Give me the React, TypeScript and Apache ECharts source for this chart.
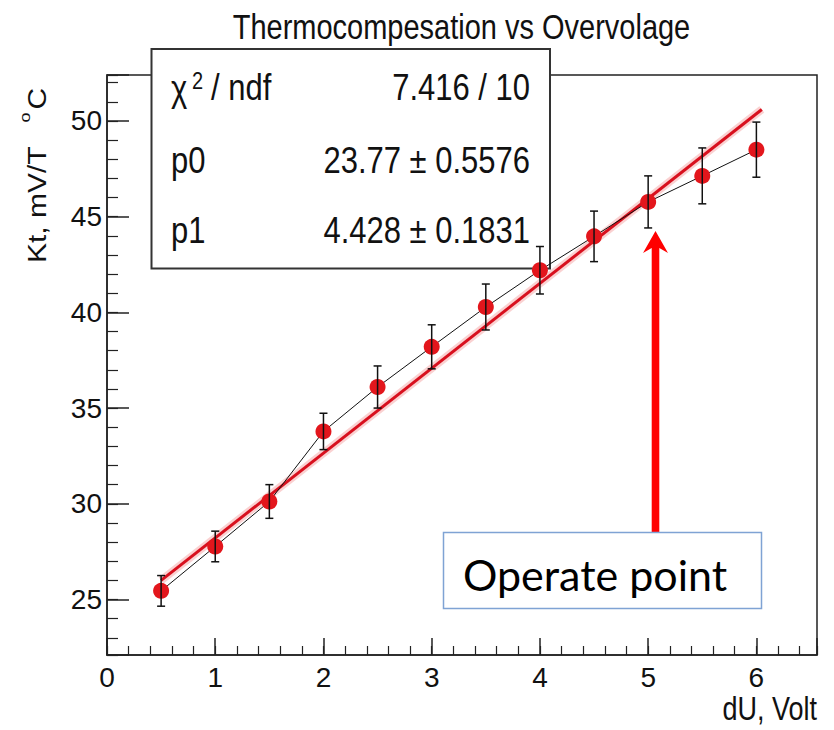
import React, { useEffect, useRef } from "react";
import * as echarts from "echarts";

// ---- data ----
const titleText = "Thermocompesation vs Overvolage";
const xAxisName = "dU, Volt";
const yAxisNameMain = "Kt, mV/T";
const yAxisNameSup = "o";
const yAxisNameUnit = "C";

const duValues = [0.5, 1, 1.5, 2, 2.5, 3, 3.5, 4, 4.5, 5, 5.5, 6];
const ktValues = [25.45, 27.77, 30.12, 33.78, 36.1, 38.2, 40.28, 42.2, 43.97, 45.77, 47.13, 48.5];
const ktErrors = [0.8, 0.8, 0.88, 0.95, 1.1, 1.15, 1.2, 1.24, 1.32, 1.36, 1.46, 1.44];

const fitDu = [0.5, 6.05];
const fitKt = [26.0, 50.6];

const statNames = ["p0", "p1"];
const statValues = ["7.416 / 10", "23.77 \u00b1 0.5576", "4.428 \u00b1 0.1831"];
const annotationText = "Operate point";

const REG = '"Liberation Sans", Arial, Helvetica, sans-serif';
const SY = 1.22; // vertical stretch of the reference picture's texts

export default function App() {
  const ref = useRef<HTMLDivElement>(null);

  useEffect(() => {
    document.body.style.margin = "0";
    const chart = echarts.init(ref.current!, null, { renderer: "svg" });

    const points = duValues.map((d, i) => [d, ktValues[i]]);
    const errData = duValues.map((d, i) => [d, ktValues[i], ktErrors[i]]);
    const fitData = fitDu.map((d, i) => [d, fitKt[i]]);

    const axisColor = "#222";

    const stretchedText = (
      x: number,
      y: number,
      text: string,
      size: number,
      align: string,
      z = 1.5
    ) => ({
      type: "text",
      x,
      y,
      z,
      scaleY: SY,
      style: { text, font: `${size}px ${REG}`, fill: "#111", align, verticalAlign: "middle" },
    });

    const option: any = {
      animation: false,
      backgroundColor: "#fff",
      grid: {
        left: 107,
        top: 75,
        right: 17,
        bottom: 75,
        show: true,
        borderColor: axisColor,
        borderWidth: 1.5,
        backgroundColor: "#fff",
        containLabel: false,
      },
      xAxis: [
        {
          type: "value",
          min: 0,
          max: 6.56,
          interval: 1,
          position: "bottom",
          axisLine: { show: true, onZero: false, lineStyle: { color: axisColor, width: 1.5 } },
          axisTick: { show: true, inside: true, length: 17, lineStyle: { color: axisColor, width: 1.5 } },
          axisLabel: {
            show: true,
            margin: 8,
            fontFamily: REG,
            fontSize: 28,
            color: "#111",
            formatter: (v: number) => (Math.abs(v - Math.round(v)) < 1e-9 ? String(Math.round(v)) : ""),
          },
          splitLine: { show: false },
        },
        {
          type: "value",
          min: 0,
          max: 6.56,
          interval: 0.2,
          position: "bottom",
          axisLine: { show: false },
          axisTick: { show: true, inside: true, length: 9, lineStyle: { color: axisColor, width: 1.2 } },
          axisLabel: { show: false },
          splitLine: { show: false },
        },
      ],
      yAxis: [
        {
          type: "value",
          min: 22.1,
          max: 52.4,
          minInterval: 5,
          maxInterval: 5,
          position: "left",
          axisLine: { show: true, onZero: false, lineStyle: { color: axisColor, width: 1.5 } },
          axisTick: { show: true, inside: true, length: 22, lineStyle: { color: axisColor, width: 1.5 } },
          axisLabel: {
            show: true,
            margin: 5,
            fontFamily: REG,
            fontSize: 28,
            color: "#111",
            formatter: (v: number) => (Math.abs(v / 5 - Math.round(v / 5)) < 1e-9 ? String(Math.round(v)) : ""),
          },
          splitLine: { show: false },
        },
        {
          type: "value",
          min: 22.1,
          max: 52.4,
          minInterval: 1,
          maxInterval: 1,
          position: "left",
          axisLine: { show: false },
          axisTick: { show: true, inside: true, length: 11, lineStyle: { color: axisColor, width: 1.2 } },
          axisLabel: { show: false },
          splitLine: { show: false },
        },
      ],
      series: [
        {
          type: "line",
          xAxisIndex: 0,
          yAxisIndex: 0,
          data: fitData,
          symbol: "none",
          lineStyle: { color: "rgba(235,70,70,0.25)", width: 8 },
          z: 2,
          silent: true,
        },
        {
          type: "line",
          xAxisIndex: 0,
          yAxisIndex: 0,
          data: fitData,
          symbol: "none",
          lineStyle: { color: "#d8101e", width: 3 },
          z: 3,
          silent: true,
        },
        {
          type: "line",
          xAxisIndex: 0,
          yAxisIndex: 0,
          data: points,
          symbol: "circle",
          symbolSize: 16,
          itemStyle: { color: "#e3161c" },
          lineStyle: { color: "#111", width: 1 },
          z: 4,
        },
        {
          type: "custom",
          xAxisIndex: 0,
          yAxisIndex: 0,
          data: errData,
          encode: { x: 0, y: 1 },
          z: 5,
          renderItem: (params: any, api: any) => {
            const x = api.value(0);
            const y = api.value(1);
            const e = api.value(2);
            const top = api.coord([x, y + e]);
            const bot = api.coord([x, y - e]);
            const hw = 4;
            const style = { stroke: "#111", lineWidth: 1.5 };
            return {
              type: "group",
              children: [
                { type: "line", shape: { x1: top[0], y1: top[1], x2: bot[0], y2: bot[1] }, style },
                { type: "line", shape: { x1: top[0] - hw, y1: top[1], x2: top[0] + hw, y2: top[1] }, style },
                { type: "line", shape: { x1: bot[0] - hw, y1: bot[1], x2: bot[0] + hw, y2: bot[1] }, style },
              ],
            };
          },
        },
      ],
      graphic: [
        stretchedText(461.5, 27, titleText, 29, "center", 1),
        {
          type: "rect",
          z: 1,
          shape: { x: 151.5, y: 49, width: 398.5, height: 219.5 },
          style: { fill: "#fff", stroke: "#333", lineWidth: 2 },
        },
        stretchedText(171, 88, "\u03c7", 31, "left"),
        stretchedText(192, 81, "2", 20, "left"),
        stretchedText(211, 87, "/ ndf", 31, "left"),
        stretchedText(171, 160, statNames[0], 31, "left"),
        stretchedText(171, 230, statNames[1], 31, "left"),
        stretchedText(530, 87, statValues[0], 31, "right"),
        stretchedText(530, 160, statValues[1], 31, "right"),
        stretchedText(530, 230, statValues[2], 31, "right"),
        {
          type: "group",
          x: 46.7,
          y: 263,
          rotation: Math.PI / 2,
          scaleX: 1.2,
          z: 1,
          children: [
            {
              type: "text",
              x: 0,
              y: -9,
              style: { text: yAxisNameMain, font: `25px ${REG}`, fill: "#111", align: "left", verticalAlign: "middle" },
            },
            {
              type: "text",
              x: 117,
              y: -22,
              style: { text: yAxisNameSup, font: `15px ${REG}`, fill: "#111", align: "left", verticalAlign: "middle" },
            },
            {
              type: "text",
              x: 128,
              y: -9,
              style: { text: yAxisNameUnit, font: `25px ${REG}`, fill: "#111", align: "left", verticalAlign: "middle" },
            },
          ],
        },
        stretchedText(817, 709, xAxisName, 27, "right", 1),
        {
          type: "polygon",
          z: 10,
          shape: {
            points: [
              [655.5, 231],
              [668, 253],
              [659.3, 248],
              [659.3, 532],
              [651.7, 532],
              [651.7, 248],
              [643, 253],
            ],
          },
          style: { fill: "#ff0000" },
        },
        {
          type: "rect",
          z: 10,
          shape: { x: 443.5, y: 532.5, width: 318, height: 76 },
          style: { fill: "#fff", stroke: "#7fa3d4", lineWidth: 1.5 },
        },
        {
          type: "text",
          x: 463,
          y: 574,
          z: 11,
          style: { text: annotationText, font: `43px Lato, "Open Sans", sans-serif`, fill: "#000", align: "left", verticalAlign: "middle" },
        },
      ],
    };

    chart.setOption(option);
    return () => chart.dispose();
  }, []);

  return <div ref={ref} style={{ width: 834, height: 730 }} />;
}
